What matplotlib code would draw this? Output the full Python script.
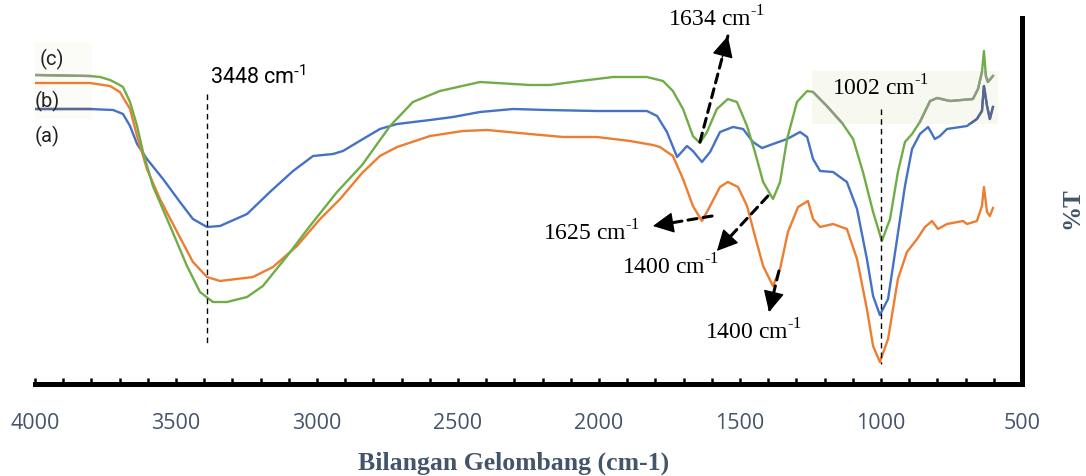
import matplotlib
matplotlib.use("Agg")
import matplotlib.pyplot as plt
from matplotlib.ticker import MultipleLocator
from matplotlib.patches import Rectangle

# ---------------- data (wavenumber cm-1, %T arbitrary units) ----------------
wn_a = [4000, 3805, 3723, 3688, 3663, 3638, 3603, 3546, 3486, 3440, 3390, 3344, 3248,
        3167, 3085, 3014, 2943, 2908, 2837, 2777, 2716, 2599, 2518, 2422, 2305, 2184,
        2007, 1830, 1794, 1759, 1723, 1688, 1667, 1635, 1606, 1571, 1525, 1489, 1454,
        1422, 1383, 1333, 1287, 1262, 1241, 1216, 1170, 1121, 1085, 1050, 1028, 1004,
        975, 943, 915, 890, 862, 833, 809, 791, 766, 695, 660, 642, 635, 624, 614, 603]
t_a = [68.75, 68.75, 68.5, 67.5, 64.5, 60, 56.25, 51.25, 45.5, 41.25, 39.25, 39.5, 42.5,
       48, 53.25, 57, 57.5, 58.25, 61.25, 63.75, 65, 66, 66.75, 68, 68.75, 68.5,
       68.25, 68.25, 67, 63, 56.75, 59.5, 58.25, 55.5, 58, 63, 64.25, 63.75, 60.5,
       59, 60, 61.25, 63, 61.75, 56.25, 53.25, 53, 50.5, 43.75, 31.25, 22, 17.25,
       21.25, 36.25, 49.5, 58.75, 62.5, 64.25, 61.25, 62, 63.75, 64.5, 66.25, 68.25, 74.5, 69.5, 66.25, 69.25]

wn_b = [4000, 3805, 3734, 3699, 3663, 3638, 3603, 3557, 3496, 3440, 3390, 3344, 3227,
        3156, 3071, 2989, 2918, 2840, 2777, 2716, 2599, 2482, 2397, 2245, 2128, 2007,
        1890, 1809, 1784, 1738, 1702, 1667, 1635, 1606, 1571, 1543, 1507, 1475, 1447,
        1418, 1383, 1358, 1330, 1294, 1259, 1241, 1216, 1170, 1121, 1085, 1050, 1028,
        1004, 975, 940, 908, 872, 844, 819, 798, 766, 709, 695, 660, 642, 635, 624, 614, 603]
t_b = [75.25, 75.25, 74.5, 73, 68.75, 62, 53.75, 46.25, 38, 30.5, 26.75, 25.75, 26.75,
       29.25, 34.5, 41.25, 46.25, 52.75, 57, 59.25, 62, 63.25, 63.5, 62.5, 61.75, 61.75,
       60.75, 59.75, 59.25, 57, 51.25, 44.5, 40.75, 44.5, 49.25, 50.5, 49.25, 44.5, 37,
       29.5, 24.5, 28.75, 38, 44.25, 45.75, 41.25, 39.25, 40, 38.75, 31.25, 18.75, 9.5,
       5.5, 11.25, 26.25, 33, 36.25, 39.25, 40.75, 38.75, 40, 40.75, 40, 40.75, 44.5, 49.25, 43, 42, 44]

wn_c = [4000, 3805, 3769, 3734, 3706, 3688, 3663, 3638, 3617, 3582, 3521, 3461, 3415,
        3369, 3319, 3248, 3192, 3106, 3025, 2929, 2840, 2741, 2660, 2564, 2422, 2245,
        2174, 2067, 1950, 1830, 1773, 1738, 1702, 1667, 1642, 1617, 1582, 1543, 1511,
        1475, 1447, 1418, 1383, 1358, 1333, 1298, 1262, 1241, 1192, 1138, 1099, 1064,
        1028, 997, 968, 940, 915, 890, 862, 826, 801, 755, 674, 656, 642, 635, 628, 621, 603]
t_c = [77.25, 77, 76.75, 76, 75, 74.25, 70.5, 64.5, 58, 49.5, 39.5, 29.5, 23,
       20.5, 20.5, 21.75, 24.5, 32, 39.5, 48, 54.75, 64.5, 70.5, 73.25, 75.5, 74.75,
       74.75, 75.75, 76.75, 76.75, 75.75, 73.25, 68.75, 62, 60.25, 63, 68.75, 71.25, 70.5,
       64.5, 58, 50.5, 46.25, 50.5, 61.25, 70.5, 73.25, 73, 69.5, 65.25, 61.25, 53,
       43, 35.75, 41.25, 53, 60.5, 62.5, 65.5, 70.75, 71.5, 70.75, 71.25, 73.75, 78, 83.25, 77, 75.5, 77]

tick_values = [4000, 3500, 3000, 2500, 2000, 1500, 1000, 500]
tick_labels = ["4000", "3500", "3000", "2500", "2000", "1500", "1000", "500"]

c_blue, c_orange, c_green = "#4472C4", "#ED7D31", "#70AD47"
lab_col = "#44546A"

plt.rcParams["mathtext.fontset"] = "custom"
plt.rcParams["mathtext.rm"] = "Liberation Serif"
plt.rcParams["mathtext.sf"] = "Roboto"

fig = plt.figure(figsize=(10.86, 4.77), dpi=100)
ax = fig.add_axes([35 / 1086, 1 - 385 / 477, (1022 - 35) / 1086, (385 - 19) / 477])
ax.set_xlim(4000, 500)
ax.set_ylim(0, 91.5)

# pasted-image style boxes
box_r = Rectangle((1245, 65), 585 - 1245, 78.25 - 65, facecolor="#f7f9f0", edgecolor="none", zorder=0.5)
box_l = Rectangle((4000, 66.25), 3798 - 4000, 85.5 - 66.25, facecolor="#fbfcf8", edgecolor="none", zorder=0.5)
ax.add_patch(box_r)
ax.add_patch(box_l)

lw = 1.7
ax.plot(wn_a, t_a, color=c_blue, lw=lw, zorder=2)
ax.plot(wn_b, t_b, color=c_orange, lw=lw, zorder=2)
ax.plot(wn_c, t_c, color=c_green, lw=lw, zorder=2)

# desaturated copies inside the boxes
for wn, t, col in [(wn_a, t_a, "#5a6890"), (wn_c, t_c, "#8e9c84")]:
    for box in (box_r, box_l):
        ln, = ax.plot(wn, t, color=col, lw=lw, zorder=2.5)
        ln.set_clip_path(box)

# spines and ticks
for s in ("left", "top"):
    ax.spines[s].set_visible(False)
for s in ("bottom", "right"):
    ax.spines[s].set_linewidth(3.6)
ax.set_yticks([])
ax.xaxis.set_minor_locator(MultipleLocator(100))
ax.set_xticks(tick_values, tick_labels)
ax.tick_params(axis="x", which="both", direction="in", length=4, width=1.8, color="black")
ax.tick_params(axis="x", which="major", pad=20, labelsize=15.5, labelcolor=lab_col)
for lab in ax.get_xticklabels():
    lab.set_fontfamily("Open Sans")

fig.text(514 / 1086, 1 - 470 / 477, "Bilangan Gelombang (cm-1)", ha="center", va="baseline",
         fontsize=18.5, fontweight="bold", family="Liberation Serif", color=lab_col)
fig.text(1072 / 1086, 1 - 208 / 477, "%T", rotation=90, ha="center", va="center",
         fontsize=18, fontweight="bold", family="Liberation Serif", color=lab_col)

# series labels
for x, y, s in [(3940, 81.5, "(c)"), (3957, 71, "(b)"), (3957, 62.25, "(a)")]:
    ax.text(x, y, s, ha="center", va="center", fontsize=14.5, family="Roboto", color="#222222")

# vertical markers
ax.plot([3390, 3390], [72.5, 10], ls=(0, (4, 3)), lw=1, color="black", zorder=3)
ax.plot([1000, 1000], [68.75, 5], ls=(0, (4, 3)), lw=1, color="black", zorder=3)
ax.text(3379, 77, r"3448 cm$^{\mathsf{\text{-}1}}$", ha="left", va="center", fontsize=15.5, family="Roboto")

serif = dict(ha="left", va="center", fontsize=17, family="Liberation Serif")
sup = r"$^{\text{-}1}$"
ax.text(1174, 74.25, "1002 cm" + sup, **serif)
ax.text(1755, 91.5, "1634 cm" + sup, **serif, clip_on=False)
ax.text(2199, 38, "1625 cm" + sup, **serif)
ax.text(1918, 29.5, "1400 cm" + sup, **serif)
ax.text(1624, 13.25, "1400 cm" + sup, **serif)

# dashed shafts + solid heads
shaft_kw = dict(arrowstyle="-", linestyle=(0, (3, 2)), lw=2.2, color="black", shrinkA=0, shrinkB=0)
head_kw = dict(arrowstyle="-|>,head_length=0.6,head_width=0.3", lw=1, color="black",
               mutation_scale=22, shrinkA=0, shrinkB=0)
for start, tip in [((1642, 60.5), (1543, 87)), ((1599, 42), (1809, 39.5)),
                   ((1401, 47), (1582, 33.25)), ((1362, 28.25), (1397, 18))]:
    ax.annotate("", xy=tip, xytext=start, arrowprops=shaft_kw, annotation_clip=False)
    near = (tip[0] + 0.2 * (start[0] - tip[0]), tip[1] + 0.2 * (start[1] - tip[1]))
    ax.annotate("", xy=tip, xytext=near, arrowprops=head_kw, annotation_clip=False)

fig.savefig("out.png", dpi=100)
